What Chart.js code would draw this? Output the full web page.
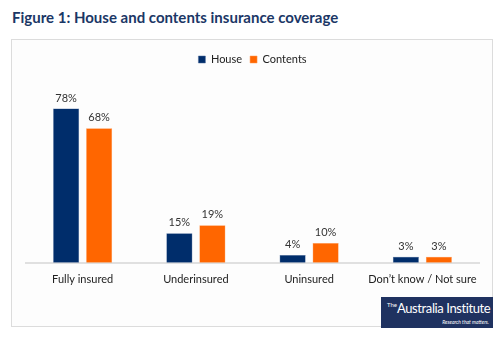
<!DOCTYPE html>
<html>
<head>
<meta charset="utf-8">
<script src="https://cdn.jsdelivr.net/npm/chart.js@4"></script>
<style>
  body { margin: 0; background: #fff; width: 499px; height: 337px; overflow: hidden; position: relative; font-family: Lato, sans-serif; }
  #title { position: absolute; left: 12px; top: 8px; font-size: 15px; font-weight: bold; color: #1b3766; white-space: nowrap; }
  #box { position: absolute; left: 11px; top: 39px; width: 480px; height: 286px; border: 1px solid #dcdcdc; background: #fdfdfd; }
  #logo { position: absolute; left: 381px; top: 297px; width: 112px; height: 31px; background: #1f3260; color: #fff; }
  #logo .main { position: absolute; left: 6px; top: 3px; font-size: 13px; letter-spacing: -0.4px; white-space: nowrap; }
  #logo .main sup { font-size: 6px; letter-spacing: 0; vertical-align: 6px; }
  #logo .sub { position: absolute; right: 4px; bottom: 3px; font-size: 5px; font-style: italic; }
</style>
</head>
<body>
<div id="title">Figure 1: House and contents insurance coverage</div>
<div id="box"><canvas id="chart" width="480" height="286"></canvas></div>
<div id="logo"><div class="main"><sup>The</sup>Australia Institute</div><div class="sub">Research that matters.</div></div>
<script>
const categories = ['Fully insured', 'Underinsured', 'Uninsured', 'Don\u2019t know / Not sure'];
const house = [78, 15, 4, 3];
const contents = [68, 19, 10, 3];

const valueLabels = {
    id: 'valueLabels',
    afterDatasetsDraw(chart) {
        const ctx = chart.ctx;
        ctx.save();
        ctx.font = '11px Lato, sans-serif';
        ctx.fillStyle = '#333';
        ctx.textAlign = 'center';
        ctx.textBaseline = 'bottom';
        chart.data.datasets.forEach(function(ds, i) {
            chart.getDatasetMeta(i).data.forEach(function(bar, j) {
                ctx.fillText(ds.data[j] + '%', bar.x, bar.y - 5);
            });
        });
        ctx.restore();
    }
};

new Chart(document.getElementById('chart'), {
    type: 'bar',
    data: {
        labels: categories,
        datasets: [
            { label: 'House', data: house, backgroundColor: '#002d6b', borderColor: '#4a6a9a', borderWidth: 0.5 },
            { label: 'Contents', data: contents, backgroundColor: '#ff6600', borderColor: '#ff9a55', borderWidth: 0.5 }
        ]
    },
    options: {
        responsive: false,
        animation: false,
        categoryPercentage: 0.583,
        barPercentage: 0.79,
        layout: { padding: { left: 14, right: 13, top: 6, bottom: 38 } },
        plugins: {
            legend: {
                labels: { boxWidth: 7, boxHeight: 7, padding: 8, color: '#222', font: { family: 'Lato', size: 11 } }
            },
            tooltip: { enabled: false }
        },
        scales: {
            x: {
                grid: { display: false },
                border: { color: '#e0e0e0', width: 2 },
                ticks: { color: '#222', padding: 2, maxRotation: 0, minRotation: 0, autoSkip: false, font: { family: 'Lato', size: 11 } }
            },
            y: { display: false, min: 0, max: 95 }
        }
    },
    plugins: [valueLabels]
});
</script>
</body>
</html>
